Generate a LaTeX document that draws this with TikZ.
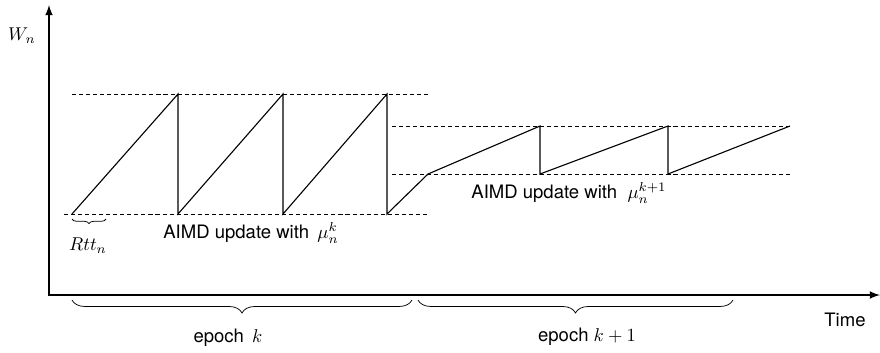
\documentclass[tikz,border=0pt]{standalone}
\usepackage{fontspec}
\setsansfont{TeX Gyre Heros}
\usepackage{amsmath}
\usetikzlibrary{decorations.pathreplacing}

\begin{document}
\begin{tikzpicture}[x=0.54pt,y=-0.54pt,
    dashline/.style={dash pattern=on 2.2pt off 1.6pt, line width=0.5pt},
    txt/.style={font=\sffamily}]
    \useasboundingbox (0,0) rectangle (880,352);

    % axes
    \draw[line width=0.9pt,-latex] (49,295) -- (49,5);
    \draw[line width=0.9pt,-latex] (48,295) -- (880,295);
    \node (wn) at (22,36) {$W_n$};
    \node[txt] (time) at (845,320) {Time};

    % window levels
    \draw[dashline] (72,94) -- (428,94);
    \draw[dashline] (64,214) -- (428,214);
    \draw[dashline] (392,126) -- (790,126);
    \draw[dashline] (392,174) -- (790,174);

    % sawtooth
    \draw[line width=0.6pt] (72,214) -- (178,94) -- (178,214) -- (283,94) -- (283,214)
        -- (387,94) -- (387,214) -- (428,174) -- (540,126) -- (540,174)
        -- (668,126) -- (668,174) -- (790,126);

    % braces
    \draw[decorate,decoration={brace,mirror,amplitude=2.5pt}] (72,219) -- (106,219);
    \draw[decorate,decoration={brace,mirror,amplitude=7pt}] (72,300) -- (412,300);
    \draw[decorate,decoration={brace,mirror,amplitude=7pt}] (418,300) -- (733,300);

    \node (rtt) at (88,246) {$Rtt_n$};
    \node[txt] (upd1) at (251,233) {AIMD update with~\,$\mu_n^k$};
    \node[txt] (upd2) at (569,193) {AIMD update with~~$\mu_n^{k+1}$};
    \node[txt] (ep1) at (228,338) {epoch~\,$k$};
    \node[txt] (ep2) at (587,337) {epoch $k+1$};
\end{tikzpicture}
\end{document}
